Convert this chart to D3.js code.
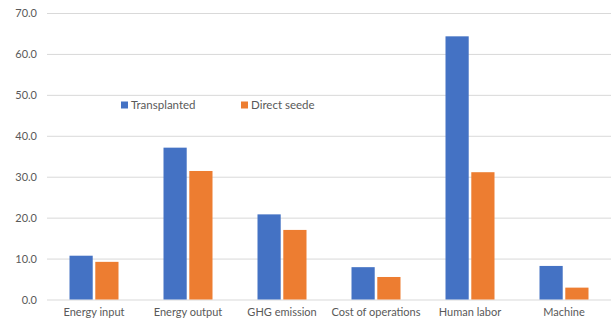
<!DOCTYPE html>
<html lang="en">
<head>
    <meta charset="UTF-8">
    <title>Chart</title>
    <script src="https://cdn.jsdelivr.net/npm/d3@7"></script>
    <style>
        body { margin: 0; background: #fff; }
        text { font-family: Lato, 'Open Sans', sans-serif; fill: #595959; }
    </style>
</head>
<body>
<script>
    const categories = ['Energy input', 'Energy output', 'GHG emission', 'Cost of operations', 'Human labor', 'Machine']
    const seriesNames = ['Transplanted', 'Direct seede']
    const transplanted = [10.7, 37.1, 20.8, 7.9, 64.3, 8.2]
    const directSeeded = [9.2, 31.4, 17.0, 5.5, 31.1, 2.9]
    const yTicks = [0, 10, 20, 30, 40, 50, 60, 70]
    const colors = ['#4472C4', '#ED7D31']

    const [width, height] = [612, 324]
    const margin = { left: 47, right: 1, top: 13, bottom: 24.5 }

    const svg = d3.select('body')
        .append('svg')
            .attr('width', width)
            .attr('height', height)

    const x = d3.scaleBand().domain(categories).range([margin.left, width - margin.right])
    const x1 = d3.scaleBand().domain(seriesNames).range([0, 49]).paddingInner(0.1)
    const y = d3.scaleLinear().domain([0, 70]).range([height - margin.bottom, margin.top])

    // grid lines + labels
    const yAxis = d3.axisLeft(y).tickValues(yTicks).tickFormat(d3.format('.1f'))
        .tickSize(-(width - margin.left - margin.right)).tickPadding(10)
    svg.append('g').attr('transform', `translate(${margin.left},0)`).call(yAxis)
        .call(g => g.select('.domain').remove())
        .call(g => g.selectAll('line').attr('stroke', '#d9d9d9'))
        .call(g => g.selectAll('text').style('font-size', '11px').attr('fill', '#595959'))

    const rows = categories.map((c, i) => ({ cat: c, vals: [transplanted[i], directSeeded[i]] }))
    const groups = svg.append('g').selectAll('g').data(rows).join('g')
        .attr('transform', d => `translate(${x(d.cat) + x.bandwidth() / 2 - 24.5},0)`)
    groups.selectAll('rect').data(d => d.vals.map((v, j) => ({ name: seriesNames[j], v, j })))
        .join('rect')
            .attr('x', d => x1(d.name))
            .attr('width', x1.bandwidth())
            .attr('y', d => y(d.v))
            .attr('height', d => y(0) - y(d.v))
            .attr('fill', d => colors[d.j])

    // category labels
    const xAxis = d3.axisBottom(x).tickSize(0).tickPadding(9)
    svg.append('g').attr('transform', `translate(0,${y(0)})`).call(xAxis)
        .call(g => g.select('.domain').remove())
        .call(g => g.selectAll('text').style('font-size', '11px').attr('fill', '#595959'))

    // legend
    const legendX = [121, 241]
    const legend = svg.append('g').selectAll('g').data(seriesNames).join('g')
        .attr('transform', (d, i) => `translate(${legendX[i]},105)`)
    legend.append('rect').attr('x', 0).attr('y', -3.5).attr('width', 7).attr('height', 7)
        .attr('fill', (d, i) => colors[i])
    legend.append('text').attr('x', 10).attr('y', 4).style('font-size', '11.5px').text(d => d)
</script>
</body>
</html>
